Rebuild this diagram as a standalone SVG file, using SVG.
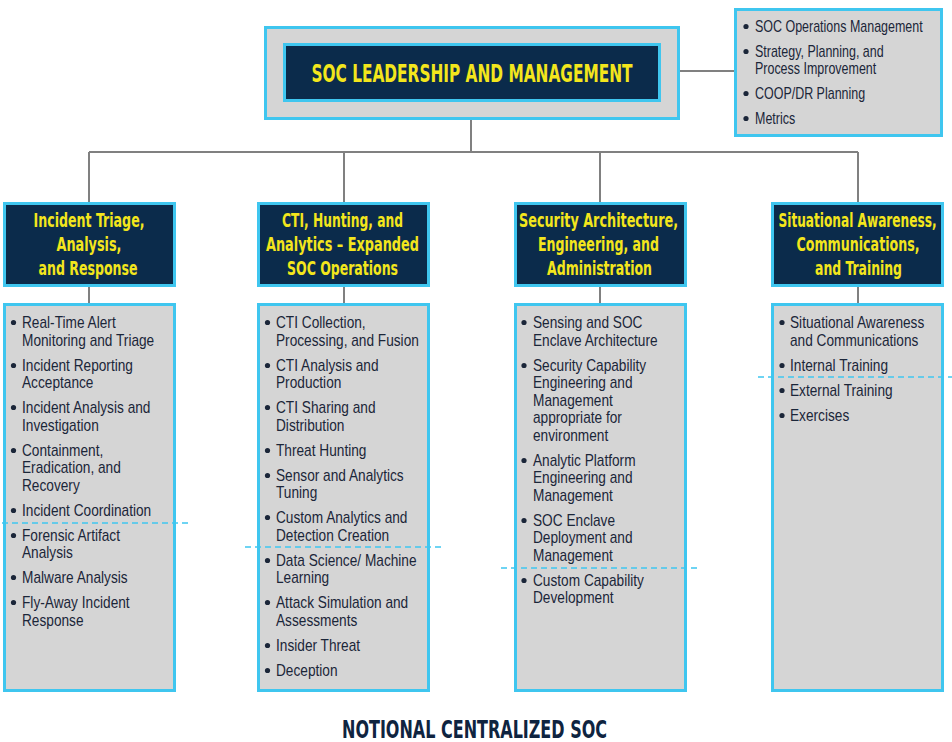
<svg xmlns="http://www.w3.org/2000/svg" width="952" height="742" viewBox="0 0 952 742">
<style>
.outer{fill:#d5d5d5;stroke:#3fc6ef;stroke-width:3}
.navy{fill:#0b2b4b;stroke:#3fc6ef;stroke-width:3}
.conn{stroke:#808080;stroke-width:2;fill:none}
.dash{stroke:#3fc6ef;stroke-width:1.5;stroke-dasharray:6,4;fill:none}
.ttl{font-family:'DejaVu Sans Condensed','Liberation Sans',sans-serif;font-weight:bold;fill:#f3e61c;text-anchor:middle}
.hd{font-size:19px}
.body{font-family:'Liberation Sans',Arial,sans-serif;font-size:16px;fill:#1b2639}
.bul{fill:#1b2639}
.foot{font-family:'DejaVu Sans Condensed','Liberation Sans',sans-serif;font-weight:bold;font-size:25px;fill:#0f2440;text-anchor:middle}
</style>
<g id="connectors">
<path class="conn" d="M471 120V152M89 152H858M89 152V202M344 152V202M600 152V202M858 152V202M89 287V303M344 287V303M600 287V303M858 287V303M680 71H734"/>
</g>
<g id="leadership">
<rect class="outer" x="265.5" y="27.5" width="413" height="91"/>
<rect class="navy" x="284.5" y="44.5" width="375" height="56"/>
<text class="ttl" x="472" y="82" font-size="25" textLength="321" lengthAdjust="spacingAndGlyphs">SOC LEADERSHIP AND MANAGEMENT</text>
</g>
<g id="mgmt-list">
<rect class="outer" x="735.5" y="9.5" width="206" height="126"/>
<g class="bul"><circle cx="746" cy="26.5" r="2.6"/><circle cx="746" cy="51.5" r="2.6"/><circle cx="746" cy="93.5" r="2.6"/><circle cx="746" cy="118.5" r="2.6"/></g>
<text class="body" transform="translate(755 0) scale(0.78 1)"><tspan x="0" y="32">SOC Operations Management</tspan><tspan x="0" y="57">Strategy, Planning, and</tspan><tspan x="0" y="74">Process Improvement</tspan><tspan x="0" y="99">COOP/DR Planning</tspan><tspan x="0" y="124">Metrics</tspan></text>
</g>
<g id="col1-header">
<rect class="navy" x="4.5" y="203.5" width="170" height="82"/>
<text class="ttl hd" x="89" y="227" textLength="111" lengthAdjust="spacingAndGlyphs">Incident Triage,</text>
<text class="ttl hd" x="89" y="251" textLength="65" lengthAdjust="spacingAndGlyphs">Analysis,</text>
<text class="ttl hd" x="88" y="275" textLength="99" lengthAdjust="spacingAndGlyphs">and Response</text>
</g>
<g id="col2-header">
<rect class="navy" x="258.5" y="203.5" width="170" height="82"/>
<text class="ttl hd" x="342.5" y="227" textLength="121" lengthAdjust="spacingAndGlyphs">CTI, Hunting, and</text>
<text class="ttl hd" x="342.5" y="251" textLength="153" lengthAdjust="spacingAndGlyphs">Analytics – Expanded</text>
<text class="ttl hd" x="342.5" y="275" textLength="111" lengthAdjust="spacingAndGlyphs">SOC Operations</text>
</g>
<g id="col3-header">
<rect class="navy" x="515.5" y="203.5" width="170" height="82"/>
<text class="ttl hd" x="598.5" y="227" textLength="159" lengthAdjust="spacingAndGlyphs">Security Architecture,</text>
<text class="ttl hd" x="598.5" y="251" textLength="121" lengthAdjust="spacingAndGlyphs">Engineering, and</text>
<text class="ttl hd" x="599.5" y="275" textLength="105" lengthAdjust="spacingAndGlyphs">Administration</text>
</g>
<g id="col4-header">
<rect class="navy" x="772.5" y="203.5" width="170" height="82"/>
<text class="ttl hd" x="857.5" y="227" textLength="158" lengthAdjust="spacingAndGlyphs">Situational Awareness,</text>
<text class="ttl hd" x="858" y="251" textLength="123" lengthAdjust="spacingAndGlyphs">Communications,</text>
<text class="ttl hd" x="858.5" y="275" textLength="87" lengthAdjust="spacingAndGlyphs">and Training</text>
</g>
<g id="col1-body">
<rect class="outer" x="4.5" y="304.5" width="170" height="386"/>
<g class="bul"><circle cx="13.5" cy="322.5" r="2.6"/><circle cx="13.5" cy="365.5" r="2.6"/><circle cx="13.5" cy="407.5" r="2.6"/><circle cx="13.5" cy="450.5" r="2.6"/><circle cx="13.5" cy="510.5" r="2.6"/><circle cx="13.5" cy="535.5" r="2.6"/><circle cx="13.5" cy="577.5" r="2.6"/><circle cx="13.5" cy="602.5" r="2.6"/></g>
<text class="body" transform="translate(22 0) scale(0.855 1)"><tspan x="0" y="328">Real-Time Alert</tspan><tspan x="0" y="346">Monitoring and Triage</tspan><tspan x="0" y="371">Incident Reporting</tspan><tspan x="0" y="388">Acceptance</tspan><tspan x="0" y="413">Incident Analysis and</tspan><tspan x="0" y="431">Investigation</tspan><tspan x="0" y="456">Containment,</tspan><tspan x="0" y="473">Eradication, and</tspan><tspan x="0" y="491">Recovery</tspan><tspan x="0" y="516">Incident Coordination</tspan><tspan x="0" y="541">Forensic Artifact</tspan><tspan x="0" y="558">Analysis</tspan><tspan x="0" y="583">Malware Analysis</tspan><tspan x="0" y="608">Fly-Away Incident</tspan><tspan x="0" y="626">Response</tspan></text>
<path class="dash" d="M2 523H188"/>
</g>
<g id="col2-body">
<rect class="outer" x="258.5" y="304.5" width="170" height="386"/>
<g class="bul"><circle cx="267.5" cy="322.5" r="2.6"/><circle cx="267.5" cy="365.5" r="2.6"/><circle cx="267.5" cy="407.5" r="2.6"/><circle cx="267.5" cy="450.5" r="2.6"/><circle cx="267.5" cy="475.5" r="2.6"/><circle cx="267.5" cy="517.5" r="2.6"/><circle cx="267.5" cy="560.5" r="2.6"/><circle cx="267.5" cy="602.5" r="2.6"/><circle cx="267.5" cy="645.5" r="2.6"/><circle cx="267.5" cy="670.5" r="2.6"/></g>
<text class="body" transform="translate(276 0) scale(0.855 1)"><tspan x="0" y="328">CTI Collection,</tspan><tspan x="0" y="346">Processing, and Fusion</tspan><tspan x="0" y="371">CTI Analysis and</tspan><tspan x="0" y="388">Production</tspan><tspan x="0" y="413">CTI Sharing and</tspan><tspan x="0" y="431">Distribution</tspan><tspan x="0" y="456">Threat Hunting</tspan><tspan x="0" y="481">Sensor and Analytics</tspan><tspan x="0" y="498">Tuning</tspan><tspan x="0" y="523">Custom Analytics and</tspan><tspan x="0" y="541">Detection Creation</tspan><tspan x="0" y="566">Data Science/ Machine</tspan><tspan x="0" y="583">Learning</tspan><tspan x="0" y="608">Attack Simulation and</tspan><tspan x="0" y="626">Assessments</tspan><tspan x="0" y="651">Insider Threat</tspan><tspan x="0" y="676">Deception</tspan></text>
<path class="dash" d="M245 547H442"/>
</g>
<g id="col3-body">
<rect class="outer" x="515.5" y="304.5" width="170" height="386"/>
<g class="bul"><circle cx="524" cy="322.5" r="2.6"/><circle cx="524" cy="365.5" r="2.6"/><circle cx="524" cy="460.5" r="2.6"/><circle cx="524" cy="520.5" r="2.6"/><circle cx="524" cy="580.5" r="2.6"/></g>
<text class="body" transform="translate(533 0) scale(0.855 1)"><tspan x="0" y="328">Sensing and SOC</tspan><tspan x="0" y="346">Enclave Architecture</tspan><tspan x="0" y="371">Security Capability</tspan><tspan x="0" y="388">Engineering and</tspan><tspan x="0" y="406">Management</tspan><tspan x="0" y="423">appropriate for</tspan><tspan x="0" y="441">environment</tspan><tspan x="0" y="466">Analytic Platform</tspan><tspan x="0" y="483">Engineering and</tspan><tspan x="0" y="501">Management</tspan><tspan x="0" y="526">SOC Enclave</tspan><tspan x="0" y="543">Deployment and</tspan><tspan x="0" y="561">Management</tspan><tspan x="0" y="586">Custom Capability</tspan><tspan x="0" y="603">Development</tspan></text>
<path class="dash" d="M501 568H698"/>
</g>
<g id="col4-body">
<rect class="outer" x="772.5" y="304.5" width="170" height="386"/>
<g class="bul"><circle cx="782" cy="322.5" r="2.6"/><circle cx="782" cy="365.5" r="2.6"/><circle cx="782" cy="390.5" r="2.6"/><circle cx="782" cy="415.5" r="2.6"/></g>
<text class="body" transform="translate(790 0) scale(0.855 1)"><tspan x="0" y="328">Situational Awareness</tspan><tspan x="0" y="346">and Communications</tspan><tspan x="0" y="371">Internal Training</tspan><tspan x="0" y="396">External Training</tspan><tspan x="0" y="421">Exercises</tspan></text>
<path class="dash" d="M758 377H952"/>
</g>
<text class="foot" x="474.5" y="738" textLength="265" lengthAdjust="spacingAndGlyphs">NOTIONAL CENTRALIZED SOC</text>
</svg>
